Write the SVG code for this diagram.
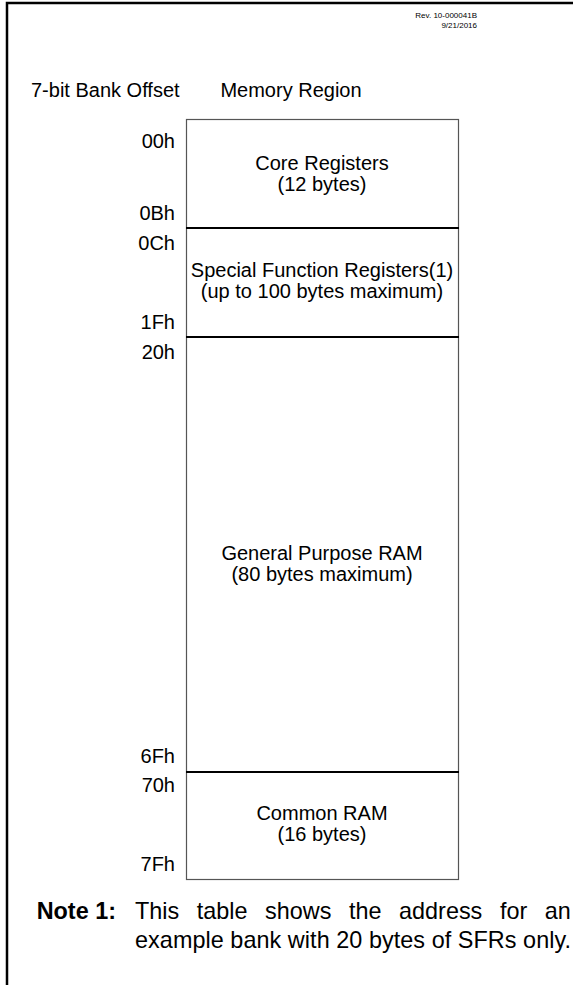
<svg xmlns="http://www.w3.org/2000/svg" width="573" height="985" viewBox="0 0 573 985">
<style>
text{font-family:"Liberation Sans",Arial,sans-serif;fill:#000}
.t{font-size:20px}
.c{text-anchor:middle}
.r{text-anchor:end}
.rev{font-size:8px;text-anchor:end}
.note{font-size:23.4px}
.b{font-weight:bold}
.outline{fill:#fff;stroke:#555;stroke-width:1.2}
.div{stroke:#000;stroke-width:2;fill:none}
.frame{stroke:#000;stroke-width:2.5;fill:none}
</style>
<rect width="573" height="985" fill="#fff"/>
<path class="frame" d="M7,985 V3 H573"/>
<text class="rev" x="477" y="18">Rev. 10-000041B</text>
<text class="rev" x="477" y="28">9/21/2016</text>
<text class="t" x="31" y="97">7-bit Bank Offset</text>
<text class="t c" x="291" y="97">Memory Region</text>
<g id="offsets">
<text class="t r" x="175" y="148">00h</text>
<text class="t r" x="175" y="220">0Bh</text>
<text class="t r" x="175" y="250">0Ch</text>
<text class="t r" x="175" y="329">1Fh</text>
<text class="t r" x="175" y="359">20h</text>
<text class="t r" x="175" y="763">6Fh</text>
<text class="t r" x="175" y="792">70h</text>
<text class="t r" x="175" y="871">7Fh</text>
</g>
<g id="memory">
<rect class="outline" x="186.5" y="119.5" width="272" height="760"/>
<g id="core">
<text class="t c" x="322" y="170">Core Registers</text>
<text class="t c" x="322" y="191">(12 bytes)</text>
</g>
<g id="sfr">
<line class="div" x1="186" y1="228" x2="459" y2="228"/>
<text class="t c" x="322" y="277">Special Function Registers(1)</text>
<text class="t c" x="322" y="298">(up to 100 bytes maximum)</text>
</g>
<g id="gpr">
<line class="div" x1="186" y1="337" x2="459" y2="337"/>
<text class="t c" x="322" y="560">General Purpose RAM</text>
<text class="t c" x="322" y="581">(80 bytes maximum)</text>
</g>
<g id="common">
<line class="div" x1="186" y1="772" x2="459" y2="772"/>
<text class="t c" x="322" y="820">Common RAM</text>
<text class="t c" x="322" y="841">(16 bytes)</text>
</g>
</g>
<g id="note">
<text class="note b" x="36.7" y="919">Note 1:</text>
<text class="note" y="919"><tspan x="135">This</tspan><tspan x="196.8">table</tspan><tspan x="265.1">shows</tspan><tspan x="349">the</tspan><tspan x="399.1">address</tspan><tspan x="499.9">for</tspan><tspan x="544.8">an</tspan></text>
<text class="note" x="135" y="948" textLength="436" lengthAdjust="spacing">example bank with 20 bytes of SFRs only.</text>
</g>
</svg>
